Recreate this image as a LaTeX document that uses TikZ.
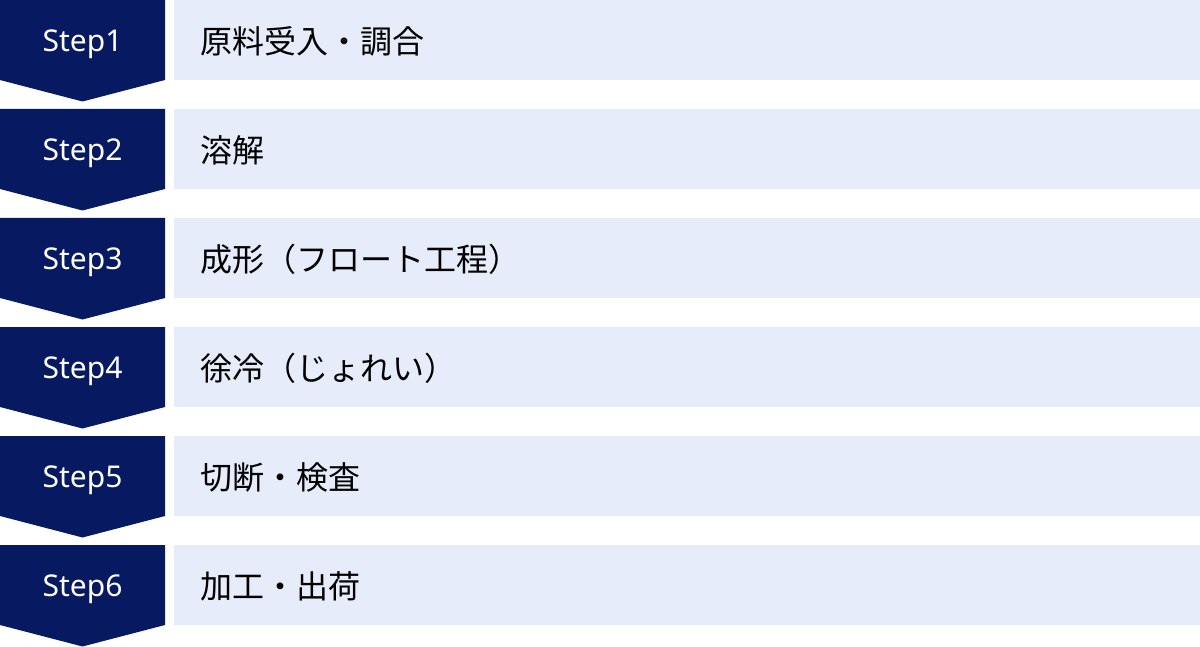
\documentclass[tikz,border=0pt]{standalone}
\usepackage{fontspec}
\setmainfont{Noto Sans CJK JP}
\newfontfamily\stepfont{Noto Sans}
\definecolor{navy}{HTML}{061961}
\definecolor{pale}{HTML}{E6ECF9}
\tikzset{
  stepshape/.style={fill=navy, draw=none},
  stepbar/.style={fill=pale, draw=none},
  steplabel/.style={text=white, font=\stepfont\fontsize{30}{34}\selectfont, anchor=base, inner sep=0pt},
  itemlabel/.style={text=black, font=\fontsize{32}{36}\selectfont, anchor=west, inner sep=0pt}
}
\begin{document}
\begin{tikzpicture}[x=1pt,y=-1pt]
\useasboundingbox (0,0) rectangle (1200,647);
\foreach \i/\t in {1/原料受入・調合,2/溶解,3/成形（フロート工程）,4/徐冷（じょれい）,5/切断・検査,6/加工・出荷}{
  \pgfmathsetmacro{\yt}{109*(\i-1)}
  \fill[stepshape] (0,\yt) -- (165,\yt) -- (165,\yt+80) -- (82.5,\yt+101.5) -- (0,\yt+80) -- cycle;
  \fill[stepbar] (174,\yt) rectangle (1200,\yt+80);
  \node[steplabel] (s\i) at (82.5,\yt+51.7) {Step\i};
  \node[itemlabel] (t\i) at (200,\yt+41) {\t};
}
\end{tikzpicture}
\end{document}
